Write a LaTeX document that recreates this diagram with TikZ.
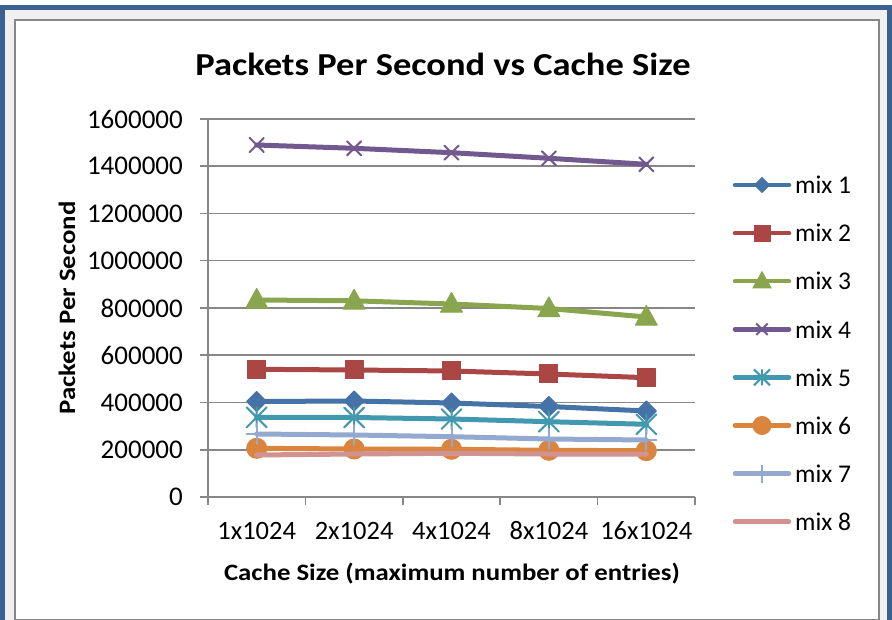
\documentclass[tikz,border=0pt]{standalone}
\usepackage{fontspec}
\usepackage{graphicx}
\setmainfont{Carlito}
\usetikzlibrary{plotmarks}
\definecolor{frameblue}{HTML}{3B6190}
\definecolor{framebg}{HTML}{F0F0F0}
\definecolor{axgray}{HTML}{878787}
\definecolor{cA}{HTML}{4572A7}
\definecolor{cB}{HTML}{AA4643}
\definecolor{cC}{HTML}{89A54E}
\definecolor{cD}{HTML}{71588F}
\definecolor{cE}{HTML}{4198AF}
\definecolor{cF}{HTML}{DB843D}
\definecolor{cG}{HTML}{93A9CF}
\definecolor{cH}{HTML}{D19392}
\pgfdeclareplotmark{mdiam}{%
  \pgfpathmoveto{\pgfqpoint{0pt}{\pgfplotmarksize}}%
  \pgfpathlineto{\pgfqpoint{\pgfplotmarksize}{0pt}}%
  \pgfpathlineto{\pgfqpoint{0pt}{-\pgfplotmarksize}}%
  \pgfpathlineto{\pgfqpoint{-\pgfplotmarksize}{0pt}}%
  \pgfpathclose\pgfusepathqfillstroke}
\pgfdeclareplotmark{mtri}{%
  \pgfpathmoveto{\pgfqpoint{0pt}{1.05\pgfplotmarksize}}%
  \pgfpathlineto{\pgfqpoint{\pgfplotmarksize}{-0.75\pgfplotmarksize}}%
  \pgfpathlineto{\pgfqpoint{-\pgfplotmarksize}{-0.75\pgfplotmarksize}}%
  \pgfpathclose\pgfusepathqfillstroke}
\pgfdeclareplotmark{mstar}{%
  \pgfpathmoveto{\pgfqpoint{-\pgfplotmarksize}{-\pgfplotmarksize}}%
  \pgfpathlineto{\pgfqpoint{\pgfplotmarksize}{\pgfplotmarksize}}%
  \pgfpathmoveto{\pgfqpoint{-\pgfplotmarksize}{\pgfplotmarksize}}%
  \pgfpathlineto{\pgfqpoint{\pgfplotmarksize}{-\pgfplotmarksize}}%
  \pgfpathmoveto{\pgfqpoint{0pt}{-\pgfplotmarksize}}%
  \pgfpathlineto{\pgfqpoint{0pt}{\pgfplotmarksize}}%
  \pgfusepathqstroke}
\newcommand{\wideb}[1]{\scalebox{1.14}[1]{#1}}
\tikzset{
  series/.style={line width=5pt, line join=round, line cap=round},
  lbl/.style={font=\fontsize{25.5}{30}\selectfont, inner sep=0pt},
  ylbl/.style={font=\fontsize{27}{32}\selectfont, inner sep=0pt},
  xlbl/.style={font=\fontsize{26.5}{31}\selectfont, inner sep=0pt},
  ttl/.style={font=\bfseries\fontsize{23.5}{28}\selectfont, inner sep=0pt},
  mkA/.style={mark=mdiam, mark size=10pt, mark options={fill=cA, draw=cA, line width=1pt}},
  mkB/.style={mark=square*, mark size=9pt, mark options={fill=cB, draw=cB, line width=1pt}},
  mkC/.style={mark=mtri, mark size=11pt, mark options={fill=cC, draw=cC, line width=1pt}},
  mkD/.style={mark=x, mark size=10pt, mark options={draw=cD, line width=2pt}},
  mkE/.style={mark=mstar, mark size=10pt, mark options={draw=cE, line width=2pt}},
  mkF/.style={mark=*, mark size=10pt, mark options={fill=cF, draw=cF, line width=1pt}},
  mkG/.style={mark=+, mark size=10pt, mark options={draw=cG, line width=2pt}},
}
\begin{document}
\begin{tikzpicture}[x=1pt,y=-1pt]
\useasboundingbox (0,0) rectangle (892,620);
\fill[white] (0,0) rectangle (892,620);
% frame
\draw[frameblue, line width=5pt, fill=framebg] (2.5,7.5) rectangle (889.5,660);
\draw[axgray, line width=2pt, fill=white] (15,20) rectangle (879,619.5);
% title
\node[font=\bfseries\fontsize{32}{36}\selectfont, inner sep=0pt] (title) at (443,64) {\wideb{Packets Per Second vs Cache Size}};
% grid and y labels
\foreach \k/\lab in {0/0,1/200000,2/400000,3/600000,4/800000,5/1000000,6/1200000,7/1400000,8/1600000}{
  \draw[axgray, line width=1.5pt] (200,{497-47.25*\k}) -- (695,{497-47.25*\k});
  \node[ylbl, anchor=east] (yl\k) at (183,{497-47.25*\k}) {\lab};
}
\draw[axgray, line width=1.5pt] (208,119) -- (208,497);
\foreach \i in {0,...,5}{
  \draw[axgray, line width=1.5pt] ({208+97.4*\i},497) -- ({208+97.4*\i},505);
}
% x labels
\foreach \i/\lab in {0/1x1024,1/2x1024,2/4x1024,3/8x1024,4/16x1024}{
  \node[xlbl] (xl\i) at ({256.7+97.4*\i},531) {\lab};
}
% axis titles
\node[ttl] (xt) at (452,574) {\wideb{Cache Size (maximum number of entries)}};
\node[ttl, rotate=90] (yt) at (67,308) {\wideb{Packets Per Second}};
% series
\draw[series, cA, mkA] plot coordinates {(256.7,401.5) (354.1,401) (451.5,403) (548.9,406.5) (646.3,411)};
\draw[series, cB, mkB] plot coordinates {(256.7,369.3) (354.1,370) (451.5,371) (548.9,374) (646.3,377.7)};
\draw[series, cC, mkC] plot coordinates {(256.7,300) (354.1,300.8) (451.5,304) (548.9,308.5) (646.3,317)};
\draw[series, cD, mkD] plot coordinates {(256.7,145) (354.1,148.3) (451.5,152.7) (548.9,158.3) (646.3,164.3)};
\draw[series, cE, mkE] plot coordinates {(256.7,417.3) (354.1,417.5) (451.5,419) (548.9,421.7) (646.3,424.3)};
\draw[series, cF, mkF] plot coordinates {(256.7,448.3) (354.1,449) (451.5,449.3) (548.9,450.3) (646.3,450.7)};
\draw[series, cG, mkG] plot coordinates {(256.7,434) (354.1,435) (451.5,436.7) (548.9,439) (646.3,440)};
\draw[series, cH] plot coordinates {(256.7,455) (354.1,454) (451.5,453.3) (548.9,454) (646.3,454)};
% legend
\foreach \n/\c [count=\j from 0] in {1/cA,2/cB,3/cC,4/cD,5/cE,6/cF,7/cG,8/cH}{
  \coordinate (la\j) at (735,{185+48.1*\j});
  \coordinate (lb\j) at (789,{185+48.1*\j});
  \draw[series, \c, line width=4.5pt] (la\j) -- (lb\j);
  \node[lbl, anchor=west] (lt\j) at (795,{185+48.1*\j}) {mix \n};
}
\draw[cA, mkA, mark size=7.5pt] plot coordinates {(762,185)};
\draw[cB, mkB, mark size=8pt] plot coordinates {(762,233.1)};
\draw[cC, mkC, mark size=9pt] plot coordinates {(762,281.2)};
\draw[cD, mkD, mark size=8pt] plot coordinates {(762,329.3)};
\draw[cE, mkE, mark size=8pt] plot coordinates {(762,377.4)};
\draw[cF, mkF, mark size=9pt] plot coordinates {(762,425.5)};
\draw[cG, mkG, mark size=9pt] plot coordinates {(762,473.6)};
\end{tikzpicture}
\end{document}
